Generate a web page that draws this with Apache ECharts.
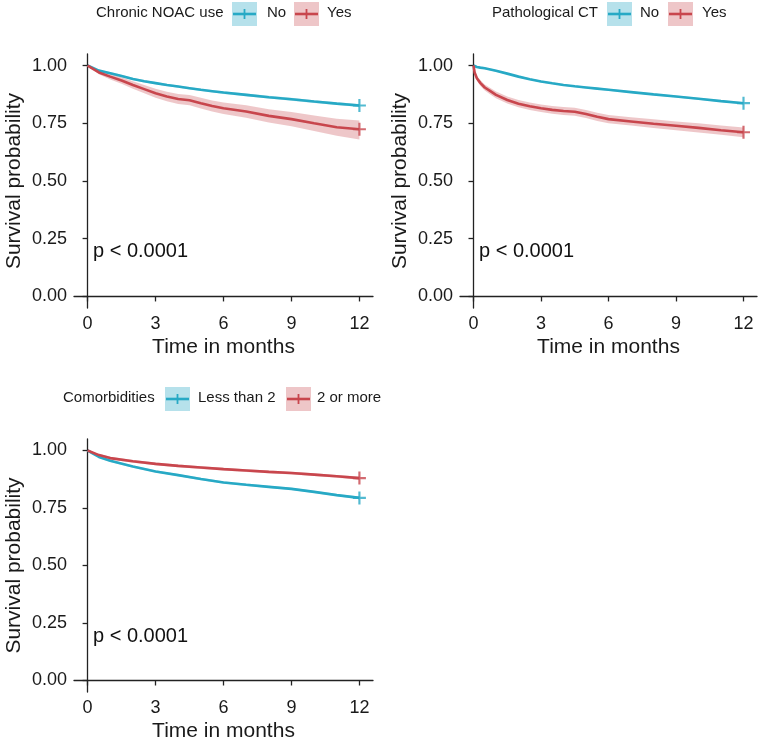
<!DOCTYPE html>
<html>
<head>
<meta charset="utf-8">
<script src="https://cdn.jsdelivr.net/npm/echarts@6/dist/echarts.min.js"></script>
<style>
  html, body { margin: 0; padding: 0; background: #fff; }
  #chart { width: 762px; height: 743px; }
</style>
</head>
<body>
<div id="chart"></div>
<script>
// tick labels
const xTicks = [0, 3, 6, 9, 12];
const yTicks = [0, 0.25, 0.5, 0.75, 1];

// panel 1: chronic NOAC use
const noacTime = [0, 0.5, 1, 1.5, 2, 2.5, 3, 3.5, 4, 4.5, 5, 5.5, 6, 7, 8, 9, 10, 11, 12];
const noacNo = [1.0, .978, .967, .955, .942, .932, .924, .916, .909, .902, .895, .889, .883, .873, .863, .854, .844, .835, .827];
const noacNoLow = [1.0, .974, .962, .950, .937, .927, .919, .911, .904, .897, .890, .884, .877, .867, .857, .848, .838, .829, .821];
const noacNoHigh = [1.0, .982, .972, .960, .947, .937, .929, .921, .914, .907, .900, .894, .889, .879, .869, .860, .850, .841, .833];
const noacYes = [1.0, .970, .952, .935, .916, .898, .880, .866, .855, .850, .837, .825, .815, .801, .782, .768, .750, .733, .724];
const noacYesLow = [1.0, .962, .940, .921, .900, .880, .860, .845, .833, .828, .814, .801, .790, .774, .753, .737, .716, .696, .680];
const noacYesHigh = [1.0, .978, .964, .949, .932, .916, .900, .887, .877, .872, .860, .849, .840, .828, .811, .799, .784, .770, .762];

// panel 2: pathological CT
const ctTime = [0, 0.05, 0.15, 0.3, 0.5, 0.75, 1, 1.5, 2, 2.5, 3, 3.5, 4, 4.5, 5, 5.5, 6, 7, 8, 9, 10, 11, 12];
const ctNo = [1.0, .997, .994, .991, .988, .983, .977, .965, .952, .941, .931, .923, .916, .910, .905, .900, .895, .885, .875, .866, .856, .846, .837];
const ctNoLow = [1.0, .994, .990, .987, .984, .979, .973, .961, .948, .937, .927, .919, .912, .906, .901, .896, .891, .881, .871, .862, .852, .842, .832];
const ctNoHigh = [1.0, 1.0, .998, .995, .992, .987, .981, .969, .956, .945, .935, .927, .920, .914, .909, .904, .899, .889, .879, .870, .860, .850, .842];
const ctYes = [1.0, .970, .945, .925, .905, .889, .873, .851, .835, .824, .815, .808, .803, .800, .790, .778, .768, .758, .748, .739, .730, .720, .711];
const ctYesLow = [1.0, .964, .935, .913, .892, .875, .858, .836, .819, .808, .799, .791, .786, .783, .773, .760, .750, .740, .729, .720, .710, .700, .690];
const ctYesHigh = [1.0, .976, .955, .937, .918, .903, .888, .866, .851, .840, .831, .825, .820, .817, .807, .796, .786, .776, .767, .758, .750, .740, .732];

// panel 3: comorbidities
const comTime = [0, 0.5, 1, 2, 3, 4, 5, 6, 7, 8, 9, 10, 11, 12];
const comLess = [1.0, .972, .955, .930, .909, .893, .876, .861, .851, .842, .833, .820, .806, .794];
const comLessLow = [1.0, .967, .950, .925, .904, .888, .871, .856, .846, .837, .828, .815, .801, .788];
const comLessHigh = [1.0, .977, .960, .935, .914, .898, .881, .866, .856, .847, .838, .825, .811, .800];
const comMore = [1.0, .980, .967, .953, .942, .933, .926, .919, .913, .907, .902, .895, .888, .880];
const comMoreLow = [1.0, .974, .961, .947, .936, .927, .920, .913, .907, .901, .896, .889, .882, .873];
const comMoreHigh = [1.0, .986, .973, .959, .948, .939, .932, .925, .919, .913, .908, .901, .894, .887];

const BLUE = "#27A9C5";
const RED = "#C8464D";
const BLUE_LIGHT = "#B6E1EB";
const RED_LIGHT = "#EEC6C8";
const FONT = "Liberation Sans";
const PLUS = "path://M-1,-6H1V-1H6V1H1V6H-1V1H-6V-1H-1Z";

const grids = [
  { left: 74, top: 54, width: 299, height: 254 },
  { left: 460, top: 54, width: 297, height: 254 },
  { left: 74, top: 439, width: 299, height: 254 },
];

const zip = (t, v) => t.map((x, i) => [x, v[i]]);

function curveSeries(gi, times, est, low, high, color) {
  const last = times.length - 1;
  return [
    {
      // confidence band: one polygon through the low and high points
      type: "custom", xAxisIndex: gi, yAxisIndex: gi, silent: true, z: 1,
      data: times.map((t, i) => [t, low[i], high[i]]),
      renderItem: (params, api) => {
        if (params.dataIndex !== 0) return null;
        const pts = [];
        times.forEach((t, i) => pts.push(api.coord([t, high[i]])));
        for (let i = last; i >= 0; i--) pts.push(api.coord([times[i], low[i]]));
        return {
          type: "polygon", shape: { points: pts },
          style: { fill: color, opacity: 0.3 },
        };
      },
    },
    {
      type: "line", xAxisIndex: gi, yAxisIndex: gi,
      data: zip(times, est), symbol: "none",
      lineStyle: { color: color, width: 2.6 }, z: 3,
    },
    {
      type: "scatter", xAxisIndex: gi, yAxisIndex: gi,
      data: [[times[last], est[last]]], symbol: PLUS, symbolSize: 13,
      itemStyle: { color: color }, z: 4,
    },
  ];
}

const axisText = { color: "#1a1a1a", fontFamily: FONT };

const xAxes = grids.map((g, i) => ({
  type: "value", gridIndex: i, min: -0.6, max: 12.6,
  name: "Time in months", nameLocation: "middle", nameGap: 29,
  nameTextStyle: { ...axisText, fontSize: 21 },
  axisLine: { lineStyle: { color: "#222", width: 1.3 } },
  axisTick: { customValues: xTicks, length: 5, lineStyle: { color: "#222", width: 1.3 } },
  axisLabel: { customValues: xTicks, ...axisText, fontSize: 18, margin: 7 },
  splitLine: { show: false },
}));

const yAxes = grids.map((g, i) => ({
  type: "value", gridIndex: i, min: -0.05, max: 1.05,
  name: "Survival probability", nameLocation: "middle", nameGap: 49,
  nameTextStyle: { ...axisText, fontSize: 21 },
  axisLine: { show: true, lineStyle: { color: "#222", width: 1.3 } },
  axisTick: { show: true, customValues: yTicks, length: 5, lineStyle: { color: "#222", width: 1.3 } },
  axisLabel: { customValues: yTicks, ...axisText, fontSize: 18, margin: 7,
    formatter: (v) => v.toFixed(2) },
  splitLine: { show: false },
}));

// legend drawn as graphics: title, then boxes with line + plus
function legend(title, x, cy, keys) {
  const els = [{
    type: "text", left: x, top: cy - 9,
    style: { text: title, fill: "#1a1a1a", font: "15px " + FONT },
  }];
  keys.forEach((k) => {
    els.push({
      type: "rect", shape: { x: k.box, y: cy - 12, width: 25, height: 24 },
      style: { fill: k.light },
    });
    els.push({
      type: "line", shape: { x1: k.box + 1, y1: cy, x2: k.box + 24, y2: cy },
      style: { stroke: k.color, lineWidth: 2.6 },
    });
    els.push({
      type: "line", shape: { x1: k.box + 12.5, y1: cy - 5, x2: k.box + 12.5, y2: cy + 5 },
      style: { stroke: k.color, lineWidth: 1.8 },
    });
    els.push({
      type: "text", left: k.text, top: cy - 9,
      style: { text: k.label, fill: "#1a1a1a", font: "15px " + FONT },
    });
  });
  return els;
}

function pText(x, cy) {
  return {
    type: "text", left: x, top: cy - 11, z: 10,
    style: { text: "p < 0.0001", fill: "#111", font: "20px " + FONT },
  };
}

const graphic = [
  ...legend("Chronic NOAC use", 96, 14, [
    { box: 232, text: 267, label: "No", color: BLUE, light: BLUE_LIGHT },
    { box: 294, text: 327, label: "Yes", color: RED, light: RED_LIGHT },
  ]),
  ...legend("Pathological CT", 492, 14, [
    { box: 607, text: 640, label: "No", color: BLUE, light: BLUE_LIGHT },
    { box: 668, text: 702, label: "Yes", color: RED, light: RED_LIGHT },
  ]),
  ...legend("Comorbidities", 63, 399, [
    { box: 165, text: 198, label: "Less than 2", color: BLUE, light: BLUE_LIGHT },
    { box: 286, text: 317, label: "2 or more", color: RED, light: RED_LIGHT },
  ]),
  pText(93, 252),
  pText(479, 252),
  pText(93, 637),
];

const series = [
  ...curveSeries(0, noacTime, noacNo, noacNoLow, noacNoHigh, BLUE),
  ...curveSeries(0, noacTime, noacYes, noacYesLow, noacYesHigh, RED),
  ...curveSeries(1, ctTime, ctNo, ctNoLow, ctNoHigh, BLUE),
  ...curveSeries(1, ctTime, ctYes, ctYesLow, ctYesHigh, RED),
  ...curveSeries(2, comTime, comLess, comLessLow, comLessHigh, BLUE),
  ...curveSeries(2, comTime, comMore, comMoreLow, comMoreHigh, RED),
];

const chart = echarts.init(document.getElementById("chart"));
chart.setOption({
  animation: false,
  backgroundColor: "#fff",
  textStyle: { fontFamily: FONT },
  grid: grids,
  xAxis: xAxes,
  yAxis: yAxes,
  graphic: graphic,
  series: series,
});
</script>
</body>
</html>
